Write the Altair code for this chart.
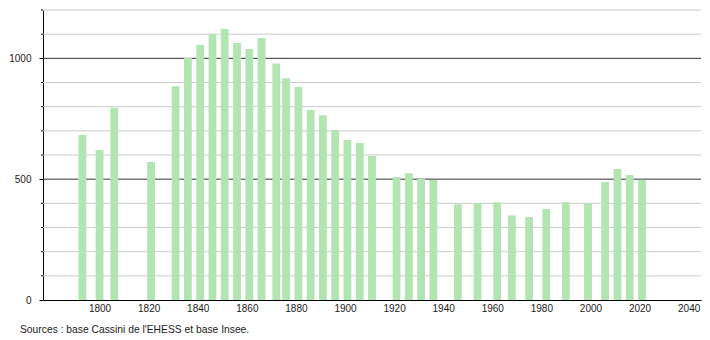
import altair as alt
import pandas as pd

years = [1793, 1800, 1806, 1821, 1831, 1836, 1841, 1846, 1851, 1856, 1861, 1866,
         1872, 1876, 1881, 1886, 1891, 1896, 1901, 1906, 1911, 1921, 1926, 1931,
         1936, 1946, 1954, 1962, 1968, 1975, 1982, 1990, 1999, 2006, 2011, 2016, 2021]
population = [683, 621, 796, 571, 885, 1001, 1055, 1101, 1121, 1063, 1039, 1084,
              979, 918, 881, 786, 765, 703, 662, 650, 596, 509, 525, 501,
              497, 396, 401, 405, 350, 343, 377, 405, 401, 488, 542, 517, 497]

grid_light = [100, 200, 300, 400, 600, 700, 800, 900, 1100, 1200]
grid_dark = [500, 1000]
minor_ticks = [100, 200, 300, 400, 600, 700, 800, 900, 1100, 1200]
x_labels = [1800, 1820, 1840, 1860, 1880, 1900, 1920, 1940, 1960, 1980, 2000, 2020, 2040]
y_labels = [0, 500, 1000]
source = "Sources : base Cassini de l'EHESS et base Insee."

W, H = 658, 290
FONT = "Liberation Sans"

df = pd.DataFrame({"year": years, "pop": population})

xscale = alt.Scale(domain=[1779, 2043], nice=False, zero=False)
yscale = alt.Scale(domain=[0, 1200], nice=False)
yaxis = alt.Axis(values=y_labels, title=None, grid=False, tickSize=4, format="d",
                 tickColor="#000000", domainColor="#000000",
                 labelFont=FONT, labelFontSize=10, labelColor="#222222",
                 labelPadding=8)
xaxis = alt.Axis(values=x_labels, title=None, format="d", ticks=False,
                 grid=False, domainColor="#000000", labelFont=FONT,
                 labelFontSize=10, labelColor="#222222", labelPadding=3)

light = alt.Chart(pd.DataFrame({"v": grid_light})).mark_rule(
    color="#cccccc", strokeWidth=1
).encode(y=alt.Y("v:Q", scale=yscale, axis=yaxis), x=alt.value(0), x2=alt.value(W))

dark = alt.Chart(pd.DataFrame({"v": grid_dark})).mark_rule(
    color="#333333", strokeWidth=1
).encode(y=alt.Y("v:Q", scale=yscale, axis=yaxis), x=alt.value(0), x2=alt.value(W))

ticks = alt.Chart(pd.DataFrame({"v": minor_ticks})).mark_rule(
    color="#000000", strokeWidth=1
).encode(y=alt.Y("v:Q", scale=yscale, axis=yaxis), x=alt.value(-2), x2=alt.value(0))

bars = alt.Chart(df).mark_bar(color="#b3e5b3", width=7.8).encode(
    x=alt.X("year:Q", scale=xscale, axis=xaxis),
    y=alt.Y("pop:Q", scale=yscale, axis=yaxis),
)

src = alt.Chart(pd.DataFrame({"t": [source]})).mark_text(
    align="left", baseline="middle", font=FONT, fontSize=10.3, color="#222222"
).encode(text="t:N", x=alt.value(-23), y=alt.value(320))

chart = alt.layer(light, dark, ticks, bars, src).properties(
    width=W, height=H,
    autosize=alt.AutoSizeParams(type="none"),
    padding={"left": 43, "top": 10, "right": 9, "bottom": 40},
).configure_view(stroke=None)

chart.save("out.html", embed_options={"renderer": "svg", "actions": False})
